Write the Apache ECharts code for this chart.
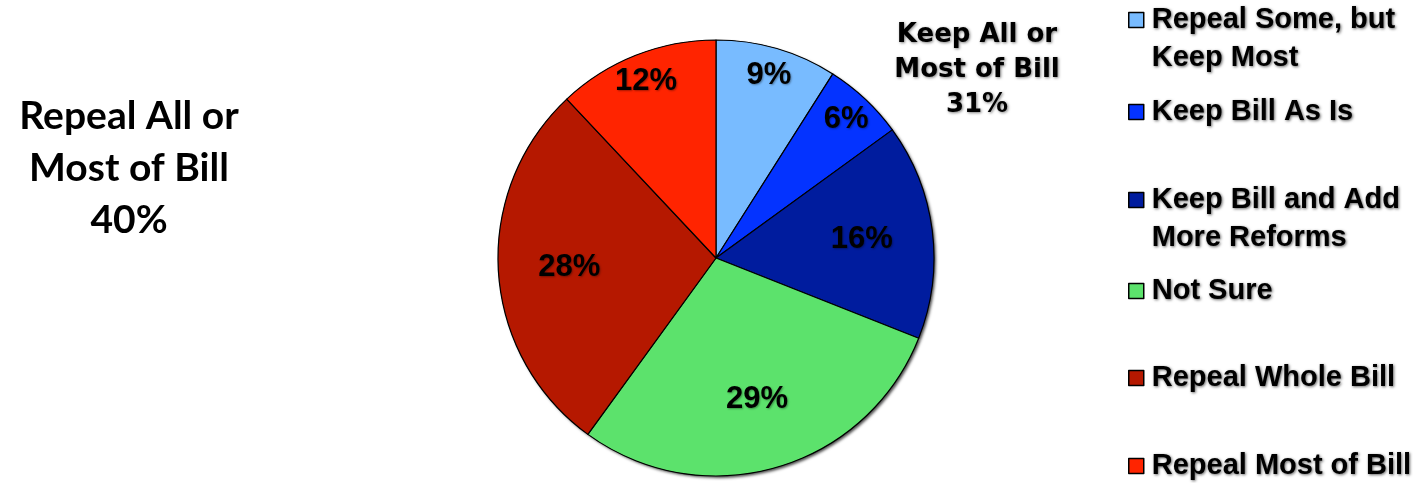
<!DOCTYPE html>
<html>
<head>
<meta charset="utf-8">
<script src="https://cdn.jsdelivr.net/npm/echarts@6/dist/echarts.min.js"></script>
<style>html,body{margin:0;padding:0;background:#fff}#c{width:1428px;height:483px}</style>
</head>
<body>
<div id="c"></div>
<script>
const categories = ['Repeal Some, but\nKeep Most', 'Keep Bill As Is', 'Keep Bill and Add\nMore Reforms', 'Not Sure', 'Repeal Whole Bill', 'Repeal Most of Bill'];
const values = [9, 6, 16, 29, 28, 12];
const colors = ['#78BBFF', '#0433FF', '#001C9E', '#5CE26C', '#B51800', '#FF2400'];
const outerLabelSet = ['Repeal Some, but\nKeep Most', 'Keep Bill As Is', 'Repeal Most of Bill'];
const repealGroup = { label: 'Repeal All or\nMost of Bill', value: '40%' };
const keepGroup = { label: 'Keep All or\nMost of Bill', value: '31%' };

const center = [716, 258];
const R = 218;

const mainData = categories.map((c, i) => ({ name: c, value: values[i], itemStyle: { color: colors[i] } }));
const shadowData = categories.map((c, i) => ({ name: c, value: values[i] }));
const labelFont = { fontFamily: 'Liberation Sans, Arial, sans-serif', fontWeight: 'bold', fontSize: 31, color: '#000',
  textShadowColor: 'rgba(0,0,0,0.35)', textShadowBlur: 2, textShadowOffsetX: 1, textShadowOffsetY: 1 };
const labelDataA = categories.map((c, i) => ({ name: c, value: values[i], label: { show: outerLabelSet.includes(c) } }));
const labelDataB = categories.map((c, i) => ({ name: c, value: values[i], label: { show: !outerLabelSet.includes(c) } }));

const legendCenters = [20, 112, 200, 291, 378, 466];
const legends = categories.map((c, i) => {
  const multi = c.indexOf('\n') >= 0;
  return {
    orient: 'vertical', left: 1128, top: multi ? legendCenters[i] - 57 : legendCenters[i] - 19,
    padding: 0, itemWidth: 15, itemHeight: 15, itemGap: 0, icon: 'rect',
    selectedMode: false,
    data: [c],
    formatter: (n) => (n.indexOf('\n') >= 0 ? ' \n' + n : n),
    itemStyle: { borderColor: '#000', borderWidth: 1.5 },
    textStyle: { fontFamily: 'Liberation Sans, Arial, sans-serif', fontWeight: 'bold', fontSize: 29, color: '#000',
      lineHeight: 38, padding: [0, 0, 0, 3],
      textShadowColor: 'rgba(0,0,0,0.6)', textShadowBlur: 3, textShadowOffsetX: 1, textShadowOffsetY: 1 }
  };
});

const chart = echarts.init(document.getElementById('c'), null, { renderer: 'canvas' });
chart.setOption({
  backgroundColor: '#fff',
  animation: false,
  title: [
    { text: repealGroup.label + '\n' + repealGroup.value, left: 124, top: 85, textAlign: 'center',
      textStyle: { fontFamily: 'Lato, sans-serif', fontWeight: 'bold', fontSize: 39, lineHeight: 52, color: '#000' } },
    { text: keepGroup.label + '\n' + keepGroup.value, left: 972, top: 13, textAlign: 'center',
      textStyle: { fontFamily: 'DejaVu Sans, Verdana, sans-serif', fontWeight: 'bold', fontSize: 26, lineHeight: 35, color: '#000',
        textShadowColor: 'rgba(0,0,0,0.5)', textShadowBlur: 3, textShadowOffsetX: 1, textShadowOffsetY: 1 } }
  ],
  legend: legends,
  series: [
    { type: 'pie', name: 'main', z: 3, center: center, radius: R, startAngle: 90, clockwise: true,
      avoidLabelOverlap: false, label: { show: false }, labelLine: { show: false }, emphasis: { disabled: true },
      itemStyle: { borderColor: '#000', borderWidth: 1.2 }, data: mainData },
    { type: 'pie', name: 'shadow', z: 2, center: center, radius: R, startAngle: 90, silent: true,
      label: { show: false }, labelLine: { show: false }, emphasis: { disabled: true },
      itemStyle: { color: '#000', shadowColor: 'rgba(0,0,0,0.7)', shadowBlur: 3, shadowOffsetX: 2, shadowOffsetY: 2 },
      data: shadowData },
    { type: 'pie', name: 'labelsA', z: 4, center: center, radius: [156, R], startAngle: 90, silent: true,
      itemStyle: { color: 'rgba(0,0,0,0)', borderWidth: 0 }, emphasis: { disabled: true }, labelLine: { show: false },
      label: Object.assign({ position: 'inside', formatter: '{c}%' }, labelFont), data: labelDataA },
    { type: 'pie', name: 'labelsB', z: 4, center: center, radius: [70, R], startAngle: 90, silent: true,
      itemStyle: { color: 'rgba(0,0,0,0)', borderWidth: 0 }, emphasis: { disabled: true }, labelLine: { show: false },
      label: Object.assign({ position: 'inside', formatter: '{c}%' }, labelFont), data: labelDataB }
  ]
});
</script>
</body>
</html>
